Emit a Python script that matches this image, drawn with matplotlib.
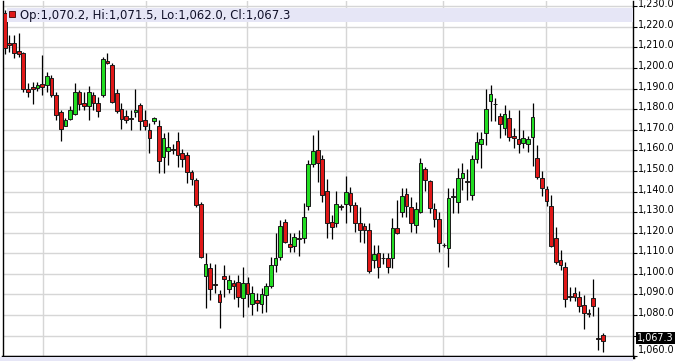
import numpy as np
import matplotlib.pyplot as plt
import matplotlib.transforms as mtransforms
from matplotlib.patches import Rectangle

# daily OHLC
opens = [1226.5, 1211.9, 1212.0, 1208.4, 1207.4, 1190.0, 1190.6, 1190.5, 1192.3, 1191.8,
         1195.0, 1186.9, 1178.4, 1171.9, 1175.2, 1177.7, 1188.1, 1182.9, 1181.6, 1186.9,
         1183.2, 1186.8, 1203.5, 1201.5, 1187.7, 1180.2, 1176.8, 1175.8, 1178.5, 1181.9,
         1174.8, 1169.7, 1174.4, 1171.6, 1157.0, 1159.8, 1160.8, 1164.5, 1158.8, 1157.7,
         1149.6, 1145.5, 1133.9, 1098.9, 1102.7, 1095.3, 1090.2, 1099.0, 1092.6, 1095.4,
         1096.2, 1088.4, 1095.5, 1085.5, 1087.4, 1085.4, 1089.9, 1094.1, 1104.4, 1108.0,
         1125.2, 1114.4, 1113.5, 1117.5, 1117.3, 1133.1, 1153.3, 1160.0, 1155.8, 1140.2,
         1125.0, 1124.6, 1132.8, 1133.9, 1139.1, 1133.4, 1124.6, 1123.3, 1121.3, 1106.9,
         1110.0, 1107.9, 1107.6, 1107.5, 1122.3, 1130.0, 1138.8, 1132.3, 1123.7, 1130.0,
         1150.8, 1145.1, 1131.3, 1126.8, 1114.2, 1112.4, 1137.7, 1135.0, 1146.4, 1145.0,
         1138.3, 1155.6, 1162.9, 1168.5, 1183.9, 1182.7, 1176.8, 1170.7, 1175.5, 1167.0,
         1165.6, 1163.4, 1163.0, 1166.6, 1156.1, 1146.4, 1141.2, 1133.0, 1117.3, 1106.7,
         1103.2, 1089.2, 1090.8, 1088.9, 1085.0, 1081.1, 1088.2, 1068.9, 1070.2]
highs = [1228.0, 1216.0, 1216.0, 1216.8, 1207.9, 1192.6, 1193.4, 1193.0, 1206.3, 1198.2,
         1196.6, 1188.5, 1179.7, 1175.6, 1181.3, 1192.9, 1189.4, 1188.5, 1191.3, 1188.5,
         1185.8, 1205.5, 1207.4, 1202.3, 1189.7, 1182.9, 1179.7, 1179.7, 1189.7, 1182.9,
         1179.7, 1173.2, 1176.0, 1174.8, 1168.4, 1169.0, 1163.0, 1169.0, 1160.5, 1159.3,
         1150.4, 1146.4, 1135.0, 1110.0, 1105.1, 1105.0, 1092.2, 1104.3, 1099.5, 1097.2,
         1099.5, 1103.5, 1098.4, 1094.3, 1090.8, 1093.0, 1095.4, 1108.3, 1119.7, 1126.2,
         1126.5, 1119.7, 1119.7, 1121.3, 1134.3, 1155.3, 1167.4, 1169.9, 1157.6, 1145.9,
         1128.6, 1140.2, 1134.0, 1147.5, 1142.3, 1135.0, 1132.6, 1124.6, 1124.6, 1114.0,
         1114.0, 1110.0, 1110.3, 1126.9, 1135.9, 1141.5, 1141.5, 1137.5, 1135.0, 1156.1,
         1152.0, 1145.6, 1134.4, 1130.2, 1115.0, 1141.5, 1141.5, 1151.3, 1154.0, 1151.0,
         1157.7, 1169.0, 1169.0, 1189.6, 1191.7, 1185.5, 1178.2, 1182.0, 1179.7, 1171.0,
         1179.6, 1170.0, 1167.0, 1183.1, 1162.6, 1150.0, 1142.5, 1138.3, 1123.0, 1111.6,
         1106.0, 1093.4, 1093.4, 1091.7, 1089.6, 1083.0, 1097.4, 1084.0, 1071.5]
lows = [1207.0, 1207.5, 1204.7, 1205.5, 1188.5, 1186.0, 1182.6, 1189.0, 1187.0, 1188.5,
        1185.8, 1174.8, 1164.4, 1171.6, 1174.8, 1177.3, 1179.7, 1179.7, 1174.8, 1179.7,
        1176.1, 1185.8, 1202.0, 1182.9, 1178.0, 1170.3, 1173.2, 1170.0, 1176.1, 1170.0,
        1170.0, 1158.7, 1173.0, 1149.0, 1149.0, 1152.9, 1158.0, 1152.0, 1152.0, 1144.0,
        1143.0, 1132.6, 1107.6, 1083.3, 1087.3, 1090.6, 1073.6, 1089.0, 1090.6, 1087.8,
        1084.0, 1079.0, 1084.0, 1080.0, 1082.0, 1081.0, 1081.7, 1093.0, 1101.1, 1106.7,
        1114.9, 1110.8, 1110.8, 1108.7, 1115.0, 1131.0, 1152.0, 1144.8, 1135.0, 1117.2,
        1116.8, 1123.0, 1131.0, 1124.6, 1130.2, 1120.5, 1115.6, 1115.0, 1100.6, 1103.0,
        1097.9, 1105.0, 1100.3, 1102.7, 1119.6, 1127.8, 1127.8, 1120.5, 1120.0, 1129.4,
        1140.3, 1129.4, 1123.0, 1110.8, 1113.0, 1103.5, 1129.4, 1129.4, 1140.7, 1136.0,
        1135.9, 1153.7, 1151.5, 1162.6, 1174.0, 1174.0, 1165.8, 1167.5, 1164.5, 1161.0,
        1158.8, 1161.0, 1159.0, 1152.4, 1145.9, 1138.0, 1133.0, 1113.2, 1105.0, 1101.9,
        1084.0, 1087.0, 1087.0, 1081.6, 1073.4, 1079.0, 1079.6, 1063.0, 1062.0]
closes = [1209.5, 1211.1, 1207.1, 1206.8, 1189.7, 1188.4, 1190.0, 1191.5, 1190.6, 1196.1,
          1186.9, 1177.3, 1170.5, 1174.8, 1179.7, 1188.5, 1182.6, 1181.3, 1188.1, 1183.2,
          1178.9, 1204.2, 1202.6, 1183.7, 1178.9, 1175.2, 1174.5, 1175.4, 1179.5, 1174.4,
          1171.9, 1166.0, 1175.6, 1154.7, 1166.0, 1161.7, 1160.2, 1157.7, 1155.6, 1149.6,
          1145.9, 1133.4, 1108.3, 1104.8, 1092.6, 1094.8, 1086.4, 1097.7, 1096.9, 1094.0,
          1088.9, 1095.5, 1090.0, 1090.6, 1085.9, 1090.2, 1094.1, 1104.2, 1107.6, 1123.4,
          1115.5, 1112.9, 1118.1, 1117.0, 1127.8, 1153.3, 1159.5, 1153.7, 1138.3, 1124.6,
          1122.6, 1133.8, 1132.4, 1139.6, 1133.4, 1124.6, 1121.3, 1121.3, 1101.6, 1109.9,
          1103.2, 1107.5, 1103.3, 1122.2, 1120.1, 1137.8, 1133.0, 1124.6, 1131.4, 1153.7,
          1145.6, 1131.8, 1126.8, 1114.9, 1113.8, 1136.8, 1137.3, 1146.4, 1148.8, 1144.6,
          1155.6, 1164.2, 1165.3, 1180.0, 1187.2, 1182.3, 1172.8, 1177.5, 1166.6, 1165.8,
          1163.0, 1166.0, 1165.6, 1176.0, 1147.2, 1141.5, 1135.5, 1113.7, 1105.9, 1104.4,
          1087.6, 1088.8, 1088.9, 1084.6, 1080.8, 1080.7, 1084.4, 1068.5, 1067.3]

# bar index where a new month starts (vertical grid)
month_breaks = [8.27, 30.19, 51.95, 73.02, 93.92, 115.85]
price_ticks = list(range(1060, 1240, 10))
header = 'Op:1,070.2, Hi:1,071.5, Lo:1,062.0, Cl:1,067.3'
last_price = 1067.3

W, H = 676, 361
fig = plt.figure(figsize=(W / 100, H / 100), dpi=100)
fig.patch.set_facecolor('white')
ax = fig.add_axes([3 / W, 4.3 / H, 630 / W, 355.7 / H])

o = np.array(opens)
h = np.array(highs)
l = np.array(lows)
c = np.array(closes)
x = np.arange(len(o))
up = c >= o
cols = np.where(up, '#22dd22', '#e01818')

ax.vlines(x, l, h, color='black', lw=0.9, zorder=2)
body = np.maximum(np.abs(c - o), 0.3)
ax.bar(x, body, bottom=np.minimum(o, c), width=0.8, color=cols,
       edgecolor='#1a1a1a', linewidth=0.7, zorder=3)

ax.set_xlim(-0.36, 134.5)
ax.set_ylim(1059.8, 1232.5)

ax.set_xticks(month_breaks)
ax.set_yticks(price_ticks)
ax.grid(True, color='#d6d6d6', lw=1, zorder=0)
ax.set_axisbelow(True)
ax.tick_params(axis='x', length=0, labelbottom=False)
ax.yaxis.tick_right()
ax.tick_params(axis='y', direction='out', length=3, width=0.8, pad=0.5,
               labelsize=6.9, colors='black')
ax.set_yticklabels(['' if v == 1070 else '{:,.1f}'.format(v) for v in price_ticks])
up3 = mtransforms.ScaledTranslation(0, 3 / 100, fig.dpi_scale_trans)
for lab, v in zip(ax.get_yticklabels(), price_ticks):
    if v == 1060:
        lab.set_transform(lab.get_transform() + mtransforms.ScaledTranslation(0, 7.5 / 100, fig.dpi_scale_trans))
    else:
        lab.set_transform(lab.get_transform() + up3)

for s in ['left', 'right']:
    ax.spines[s].set_color('black')
    ax.spines[s].set_linewidth(1)
ax.spines['top'].set_visible(False)
ax.spines['bottom'].set_linewidth(2.5)

# header strip with last bar values
def fy(ypix):
    return (356.7 - ypix) / 355.7

ax.add_patch(Rectangle(((7 - 3) / 630, fy(22)), 1 - 4 / 630, fy(8) - fy(22),
                       transform=ax.transAxes, facecolor='#e6e6f6', edgecolor='none',
                       zorder=5, clip_on=False))
ax.add_patch(Rectangle((6 / 630, fy(17)), 6 / 630, fy(11) - fy(17),
                       transform=ax.transAxes, facecolor='#e01818', edgecolor='#400000',
                       lw=0.6, zorder=6, clip_on=False))
ax.text(17 / 630, fy(15), header, transform=ax.transAxes, fontsize=8.4,
        va='center', ha='left', color='#101028', zorder=7)

# last price tag on the price axis
blend = mtransforms.blended_transform_factory(ax.transAxes, ax.transData)
tag = ax.text(1 + 4 / 630, last_price, '1,067.3', transform=blend, fontsize=6.9,
              color='white', va='center', ha='left', zorder=8, clip_on=False,
              bbox=dict(facecolor='black', edgecolor='none', pad=0.8))
tag.set_transform(blend + up3)

# strip under the chart
fig.patches.append(Rectangle((0, 0), 633 / W, 4.3 / H, transform=fig.transFigure,
                             facecolor='#e6e6f6', edgecolor='none', zorder=0))

fig.savefig('out.png', dpi=100)
